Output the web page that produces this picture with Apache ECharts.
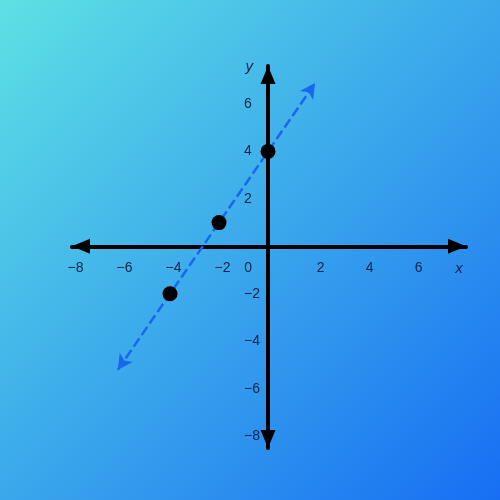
<!DOCTYPE html>
<html><head><meta charset="utf-8">
<script src="https://cdn.jsdelivr.net/npm/echarts@6/dist/echarts.min.js"></script>
<style>html,body{margin:0;padding:0}#c{width:500px;height:500px}</style>
</head><body><div id="c"></div>
<script>
// Data
const pointsX = [-4, -2, 0];
const pointsY = [-2, 1, 4];
const lineStart = [-6.13, -5.2];
const lineEnd = [1.92, 6.88];
const xTicks = [-8, -6, -4, -2, 0, 2, 4, 6];
const yTicks = [-8, -6, -4, -2, 2, 4, 6];
const xRange = [-8, 8.08];
const yRange = [-8.5, 7.6];

const labelColor = '#13234a';
const fmt = v => v < 0 ? '\u2212' + (-v) : (v === 0 ? '{z|0}' : String(v));

const W = 500, H = 500;
const grid = {left: 72, right: 34, top: 66, bottom: 52};
const gw = W - grid.left - grid.right, gh = H - grid.top - grid.bottom;
// move axes so they cross at the origin (labels follow)
const xOffset = -gh * (0 - yRange[0]) / (yRange[1] - yRange[0]);
const yOffset = -gw * (0 - xRange[0]) / (xRange[1] - xRange[0]);

const chart = echarts.init(document.getElementById('c'), null, {renderer: 'canvas'});
chart.setOption({
  animation: false,
  backgroundColor: {
    type: 'linear', x: 0, y: 0, x2: 1, y2: 1,
    colorStops: [{offset: 0, color: '#5ee1e4'}, {offset: 1, color: '#176ef3'}]
  },
  grid: grid,
  xAxis: {
    type: 'value', min: xRange[0], max: xRange[1], position: 'bottom', offset: xOffset,
    name: 'x', nameLocation: 'end', nameGap: -7,
    nameTextStyle: {color: labelColor, fontStyle: 'italic', fontSize: 15, fontFamily: 'Liberation Sans', align: 'center', verticalAlign: 'top', padding: [15, 0, 0, 0]},
    axisLine: {onZero: false, lineStyle: {color: '#000', width: 4}, symbol: ['triangle', 'triangle'], symbolSize: [15, 18], symbolOffset: [9, -9]},
    axisTick: {show: false},
    splitLine: {show: false},
    axisLabel: {
      customValues: xTicks, formatter: fmt, margin: 15,
      color: labelColor, fontSize: 14, fontFamily: 'Liberation Sans',
      padding: [0, 0, 0, 7],
      rich: {z: {color: labelColor, fontSize: 14, fontFamily: 'Liberation Sans', padding: [0, 47, 0, 0]}}
    }
  },
  yAxis: {
    type: 'value', min: yRange[0], max: yRange[1], position: 'left', offset: yOffset,
    name: 'y', nameLocation: 'end', nameGap: -1,
    nameTextStyle: {color: labelColor, fontStyle: 'italic', fontSize: 15, fontFamily: 'Liberation Sans', align: 'right', verticalAlign: 'middle', padding: [0, 15, 0, 0]},
    axisLine: {onZero: false, lineStyle: {color: '#000', width: 4}, symbol: ['triangle', 'triangle'], symbolSize: [15, 18], symbolOffset: [9, -9]},
    axisTick: {show: false},
    splitLine: {show: false},
    axisLabel: {
      customValues: yTicks, formatter: fmt, margin: 24, align: 'left',
      color: labelColor, fontSize: 14, fontFamily: 'Liberation Sans'
    }
  },
  series: [{
    type: 'scatter',
    data: pointsX.map((x, i) => [x, pointsY[i]]),
    symbolSize: 15,
    itemStyle: {color: '#000', opacity: 1},
    z: 5,
    markLine: {
      silent: true,
      symbol: ['arrow', 'arrow'],
      symbolSize: [12, 15],
      label: {show: false},
      lineStyle: {color: '#1768ee', width: 2.5, type: [10, 4], opacity: 1},
      data: [[{coord: lineStart}, {coord: lineEnd}]]
    }
  }]
});
</script></body></html>
